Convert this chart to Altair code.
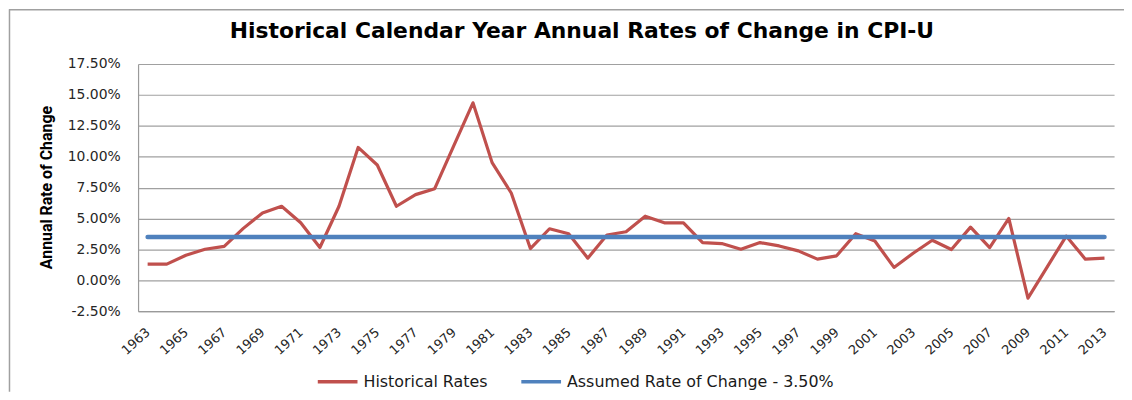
import altair as alt
import pandas as pd

years = list(range(1963, 2014))
historical = [
    1.31, 1.31, 2.03, 2.51, 2.75, 4.20, 5.45, 5.99, 4.65, 2.65,
    5.99, 10.75, 9.33, 5.99, 6.93, 7.41, 10.90, 14.36, 9.52, 7.06,
    2.57, 4.17, 3.77, 1.79, 3.66, 3.93, 5.19, 4.65, 4.65, 3.05,
    2.97, 2.51, 3.05, 2.78, 2.38, 1.71, 1.98, 3.77, 3.18, 1.04,
    2.19, 3.24, 2.49, 4.30, 2.65, 5.00, -1.44, 1.07, 3.58, 1.71,
    1.79,
]
assumed_rate = 3.50
series_names = ["Historical Rates", "Assumed Rate of Change - 3.50%"]
series_colors = ["#C0504D", "#4F81BD"]
y_ticks = [-2.5, 0, 2.5, 5, 7.5, 10, 12.5, 15, 17.5]
x_ticks = list(range(1963, 2014, 2))
title_text = "Historical Calendar Year Annual Rates of Change in CPI-U"

hist_df = pd.DataFrame({"year": years, "value": historical, "series": series_names[0]})
assumed_df = pd.DataFrame({"year": years, "value": [assumed_rate] * len(years), "series": series_names[1]})

x_enc = alt.X(
    "year:Q",
    scale=alt.Scale(domain=[1962.5, 2013.5], nice=False, zero=False),
    axis=alt.Axis(
        values=x_ticks, format="d", title=None, grid=False, ticks=False, tickSize=0,
        labelAngle=-42, labelAlign="right", labelBaseline="middle", labelPadding=19,
        labelFont="DejaVu Sans", labelFontSize=13, labelColor="#262626",
        labelOverlap=False, labelFlush=False,
        domainColor="#9a9a9a", domainWidth=1.2,
    ),
)
y_enc = alt.Y(
    "value:Q",
    scale=alt.Scale(domain=[-2.5, 17.5], nice=False, zero=False),
    axis=alt.Axis(
        values=y_ticks, title="Annual Rate of Change",
        labelExpr="(datum.value < 0 ? '-' : '') + format(abs(datum.value), '.2f') + '%'",
        ticks=False, tickSize=0, labelPadding=18,
        labelFont="DejaVu Sans", labelFontSize=14, labelColor="#262626",
        grid=True, gridColor="#a0a0a0", gridWidth=1.2,
        domainColor="#9a9a9a", domainWidth=1.2,
        titleFont="Liberation Sans Narrow, Roboto", titleFontWeight="bold", titleFontSize=16,
        titleColor="#000000", titleX=-92, titleY=124, titleAngle=-90,
        titleAlign="center", titleBaseline="middle",
    ),
)
color_enc = alt.Color(
    "series:N",
    scale=alt.Scale(domain=series_names, range=series_colors),
    legend=alt.Legend(
        title=None, orient="none", legendX=179, legendY=298, direction="horizontal",
        symbolType="stroke", symbolSize=1600, symbolStrokeWidth=3.5,
        labelFont="DejaVu Sans", labelFontSize=16, labelColor="#1a1a1a",
        labelOffset=4, columnPadding=26, padding=0, labelLimit=500,
    ),
)

hist_line = alt.Chart(hist_df).mark_line(strokeWidth=3.2, strokeJoin="round").encode(
    x=x_enc, y=y_enc, color=color_enc
)
assumed_line = alt.Chart(assumed_df).mark_line(strokeWidth=4.5, strokeCap="round").encode(
    x=x_enc, y=y_enc, color=color_enc
)

one_row = pd.DataFrame({"k": [0]})
border_top = alt.Chart(one_row).mark_rule(color="#a0a0a0", strokeWidth=1.5).encode(
    x=alt.value(-130), x2=alt.value(1000), y=alt.value(-54.5)
)
border_left = alt.Chart(one_row).mark_rule(color="#a0a0a0", strokeWidth=1.5).encode(
    x=alt.value(-129.5), y=alt.value(-55), y2=alt.value(330)
)
title_mark = alt.Chart(one_row).mark_text(
    font="DejaVu Sans", fontWeight="bold", fontSize=22, color="#000000",
    align="center", baseline="alphabetic",
).encode(x=alt.value(447), y=alt.value(-26), text=alt.value(title_text))

chart = alt.layer(hist_line, assumed_line, border_top, border_left, title_mark).properties(
    width=983,
    height=249,
    autosize=alt.AutoSizeParams(type="none"),
    padding={"left": 131, "top": 55, "right": 10, "bottom": 80},
    background="white",
).configure_view(strokeWidth=0)

chart.save("out.html", embed_options={"renderer": "svg", "actions": False})
